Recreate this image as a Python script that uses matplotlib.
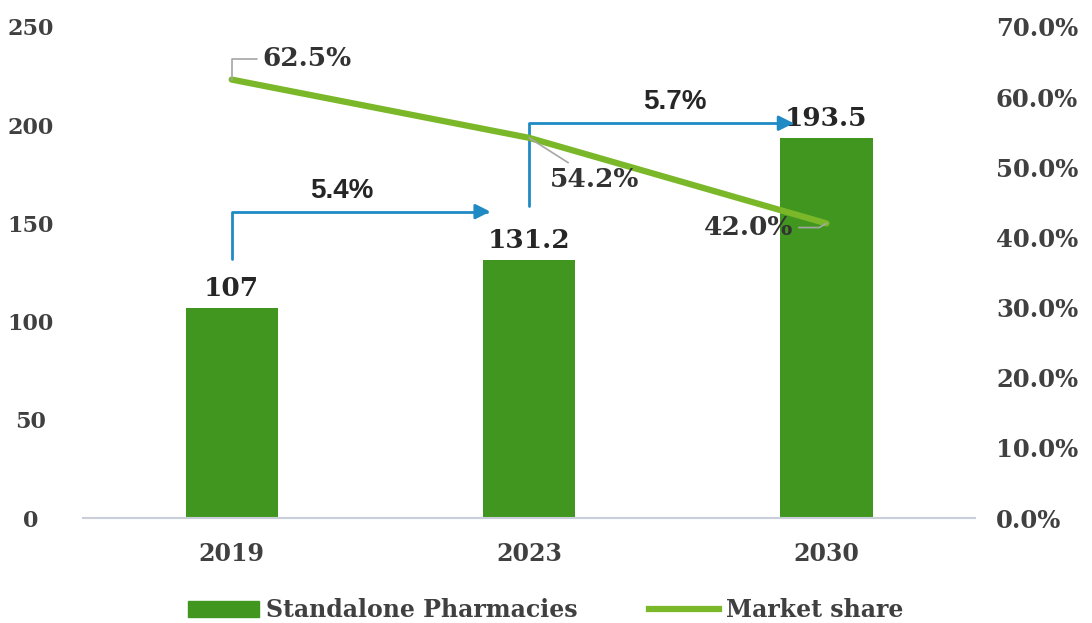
import matplotlib.pyplot as plt
from matplotlib.patches import Patch
from matplotlib.lines import Line2D

years = ['2019', '2023', '2030']
pharmacies = [107, 131.2, 193.5]
value_labels = ['107', '131.2', '193.5']
market_share = [0.625, 0.542, 0.420]
cagr_labels = ['5.4%', '5.7%']

bar_color = '#41961f'
line_color = '#7ab829'
arrow_color = '#1f8ac4'
text_color = '#404040'
serif = 'DejaVu Serif'

fig = plt.figure(figsize=(10.92, 6.23), dpi=100)
ax = fig.add_axes([0.076, 0.1685, 0.817, 0.7882])
ax2 = ax.twinx()

x = list(range(len(years)))
ax.bar(x, pharmacies, width=0.31, color=bar_color, zorder=2)
ax.set_xlim(-0.5, 2.5)
ax.set_ylim(0, 250)
ax.set_yticks([0, 50, 100, 150, 200, 250])
ax.set_xticks(x)
ax.set_xticklabels(years)

for a in (ax, ax2):
    for s in a.spines.values():
        s.set_visible(False)
ax.spines['bottom'].set_visible(True)
ax.spines['bottom'].set_color('#c9cedb')
ax.spines['bottom'].set_linewidth(1.5)
ax.tick_params(axis='both', length=0, labelsize=16, colors=text_color)
ax.tick_params(axis='x', pad=17, labelsize=17)
ax.tick_params(axis='y', pad=38)
for lab in ax.get_yticklabels() + ax.get_xticklabels():
    lab.set_fontfamily(serif)
    lab.set_fontweight('bold')
for lab in ax.get_yticklabels():
    lab.set_horizontalalignment('center')

# bar value labels
for i, v in enumerate(pharmacies):
    ax.annotate(value_labels[i], (i, v), xytext=(0, 5), textcoords='offset points',
                ha='center', va='bottom', fontsize=19, fontweight='bold',
                family=serif, color='#262626')

# market share line
ax2.plot(x, market_share, color=line_color, lw=4.5, solid_capstyle='round', zorder=3)
ax2.set_ylim(0, 0.7)
ax2.set_yticks([i / 10 for i in range(8)])
ax2.set_yticklabels(['{:.1%}'.format(i / 10) for i in range(8)])
ax2.tick_params(axis='y', length=0, labelsize=17.5, colors=text_color, pad=15)
for lab in ax2.get_yticklabels():
    lab.set_fontfamily(serif)
    lab.set_fontweight('bold')

share_offsets = [(22, 15), (15, -30), (-24, -3)]
share_ha = ['left', 'left', 'right']
share_conn = ['angle,angleA=0,angleB=90,rad=0', 'arc3,rad=0', 'angle,angleA=0,angleB=30,rad=0']
for i, s in enumerate(market_share):
    ax2.annotate('{:.1%}'.format(s), (i, s), xytext=share_offsets[i],
                 textcoords='offset points', ha=share_ha[i], va='center',
                 fontsize=19, fontweight='bold', family=serif, color='#333333',
                 arrowprops=dict(arrowstyle='-', color='#a6a6a6', lw=1.2,
                                 shrinkA=2, shrinkB=0,
                                 connectionstyle=share_conn[i]))

# CAGR arrows
arrows = [((0, 132), (0.87, 156)), ((1, 159), (1.89, 201))]
label_x = [0.37, 1.49]
for (start, end), lab, lx in zip(arrows, cagr_labels, label_x):
    ax.annotate('', xy=end, xytext=start,
                arrowprops=dict(arrowstyle='-|>,head_length=0.9,head_width=0.45',
                                color=arrow_color, lw=2, shrinkA=0, shrinkB=0,
                                connectionstyle='angle,angleA=90,angleB=0,rad=0'))
    ax.text(lx, end[1] + 4, lab, ha='center', va='bottom',
            fontsize=20, fontweight='bold', family='Liberation Sans', color='#262626')

handles = [Patch(color=bar_color), Line2D([0], [0], color=line_color, lw=4.5)]
fig.legend(handles, ['Standalone Pharmacies', 'Market share'], loc='lower center',
           bbox_to_anchor=(0.5, -0.033), ncol=2, frameon=False, handlelength=3.0,
           handletextpad=0.3, columnspacing=3.0,
           prop=dict(family=serif, weight='bold', size=17))
for t in fig.legends[0].get_texts():
    t.set_color(text_color)

fig.savefig('out.png', dpi=100)
